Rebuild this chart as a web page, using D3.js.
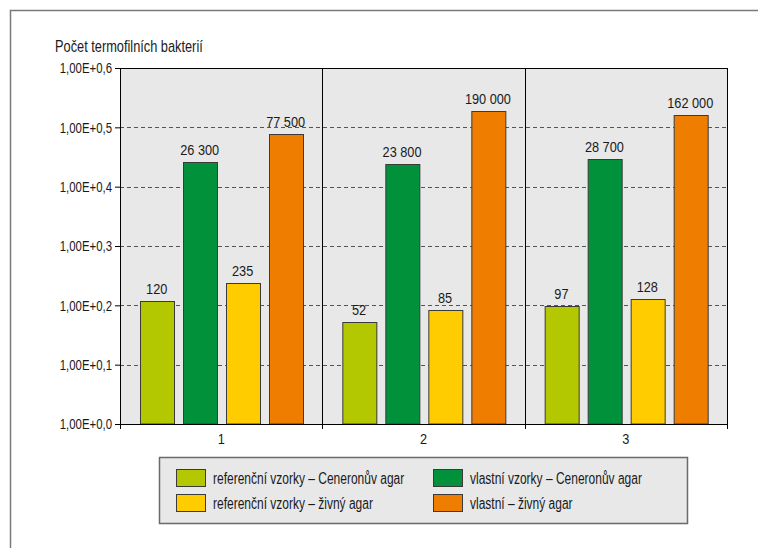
<!DOCTYPE html>
<html>
<head>
<meta charset="utf-8">
<script src="https://cdn.jsdelivr.net/npm/d3@7"></script>
<style>
  html, body { margin: 0; padding: 0; background: #fff; }
  svg text { font-family: "Liberation Sans", Arial, sans-serif; fill: #1a1a1a; }
</style>
</head>
<body>
<div id="chart"></div>
<script>
var CATEGORIES = ["1", "2", "3"];
var SERIES = [
    { key: "refCeneron", label: "referenční vzorky – Ceneronův agar", color: "#b3c800" },
    { key: "ownCeneron", label: "vlastní vzorky – Ceneronův agar",    color: "#00913a" },
    { key: "refZivny",   label: "referenční vzorky – živný agar",     color: "#ffcc00" },
    { key: "ownZivny",   label: "vlastní – živný agar",               color: "#ef7d00" }
];
var REF_CENERON = [120, 52, 97];
var OWN_CENERON = [26300, 23800, 28700];
var REF_ZIVNY   = [235, 85, 128];
var OWN_ZIVNY   = [77500, 190000, 162000];
var Y_TICKS     = [1, 10, 100, 1000, 10000, 100000, 1000000];
var Y_TICK_LABELS = ["1,00E+0,0", "1,00E+0,1", "1,00E+0,2", "1,00E+0,3", "1,00E+0,4", "1,00E+0,5", "1,00E+0,6"];
var Y_TITLE = "Počet termofilních bakterií";

var VALUES = {
    refCeneron: REF_CENERON,
    ownCeneron: OWN_CENERON,
    refZivny:   REF_ZIVNY,
    ownZivny:   OWN_ZIVNY
};

var W = 758, H = 548;
var margin = { left: 120, top: 68, right: 31, bottom: 124 };
var iW = W - margin.left - margin.right;
var iH = H - margin.top - margin.bottom;

// narrow text helper (the original uses a condensed face)
function addText(parent, x, y, str, anchor, size, sx) {
    return parent.append("text")
        .attr("transform", "translate(" + x + "," + y + ") scale(" + sx + ",1)")
        .attr("text-anchor", anchor || "start")
        .style("font-size", size + "px")
        .text(str);
}

var svg = d3.select("#chart").append("svg")
    .attr("width", W).attr("height", H);

// outer frame (only left + top are visible in the picture)
svg.append("path")
    .attr("d", "M10.5," + H + "V10.5H" + W)
    .attr("fill", "none").attr("stroke", "#7a7a7a").attr("stroke-width", 1.5);

var g = svg.append("g")
    .attr("transform", "translate(" + margin.left + "," + margin.top + ")");

var x0 = d3.scaleBand().domain(CATEGORIES).range([0, iW]).paddingInner(0).paddingOuter(0);
var x1 = d3.scaleBand().domain(SERIES.map(function (s) { return s.key; }))
    .range([0, x0.bandwidth()]).paddingInner(0.21).paddingOuter(0.46);
var y = d3.scaleLog().domain([1, 1000000]).range([iH, 0]);

// plot background
g.append("rect")
    .attr("width", iW).attr("height", iH)
    .attr("fill", "#e8e8e8");

// dashed grid
g.selectAll(".grid")
    .data(Y_TICKS.slice(1, -1))
    .enter().append("line")
    .attr("class", "grid")
    .attr("x1", 0).attr("x2", iW)
    .attr("y1", function (d) { return Math.round(y(d)) + 0.5; })
    .attr("y2", function (d) { return Math.round(y(d)) + 0.5; })
    .attr("stroke", "#555").attr("stroke-dasharray", "4 3");

// group separators
g.selectAll(".sep")
    .data(CATEGORIES.slice(1))
    .enter().append("line")
    .attr("class", "sep")
    .attr("x1", function (d) { return Math.round(x0(d)) + 0.5; })
    .attr("x2", function (d) { return Math.round(x0(d)) + 0.5; })
    .attr("y1", 0).attr("y2", iH)
    .attr("stroke", "#000");

// bars
var groups = g.selectAll(".grp")
    .data(CATEGORIES)
    .enter().append("g")
    .attr("class", "grp")
    .attr("transform", function (c) { return "translate(" + x0(c) + ",0)"; });

groups.each(function (c, ci) {
    var sel = d3.select(this);
    SERIES.forEach(function (s) {
        var v = VALUES[s.key][ci];
        var bx = Math.round(x1(s.key)) + 0.5;
        var by = Math.round(y(v)) + 0.5;
        sel.append("rect")
            .attr("x", bx).attr("y", by)
            .attr("width", Math.round(x1.bandwidth()))
            .attr("height", iH - by)
            .attr("fill", s.color)
            .attr("stroke", "#3a3a3a").attr("stroke-width", 1);
        addText(sel, x1(s.key) + x1.bandwidth() / 2, y(v) - 7,
            d3.format(",")(v).replace(/,/g, " "), "middle", 15, 0.85);
    });
});

// plot border
g.append("rect")
    .attr("x", 0.5).attr("y", 0.5)
    .attr("width", iW).attr("height", iH)
    .attr("fill", "none").attr("stroke", "#000");

// y axis
var AX_SX = 0.76;
var yAxis = g.append("g")
    .call(d3.axisLeft(y).tickValues(Y_TICKS).tickSize(5).tickSizeOuter(0)
        .tickFormat(function (d, i) { return Y_TICK_LABELS[i]; }));
yAxis.select(".domain").remove();
yAxis.selectAll("line").attr("stroke", "#000");
yAxis.selectAll("text")
    .attr("x", -8 / AX_SX)
    .attr("transform", "scale(" + AX_SX + ",1)")
    .style("font-size", "15px")
    .style("font-family", "'Liberation Sans', Arial, sans-serif")
    .attr("fill", "#1a1a1a");

// x axis: ticks at group boundaries, labels at centers
var bounds = CATEGORIES.map(function (c) { return x0(c); }).concat([iW]);
g.selectAll(".xtick")
    .data(bounds)
    .enter().append("line")
    .attr("class", "xtick")
    .attr("x1", function (d) { return Math.round(d) + 0.5; })
    .attr("x2", function (d) { return Math.round(d) + 0.5; })
    .attr("y1", iH).attr("y2", iH + 5)
    .attr("stroke", "#000");
CATEGORIES.forEach(function (c) {
    addText(g, x0(c) + x0.bandwidth() / 2, iH + 20, c, "middle", 15, 0.85);
});

// y title
addText(svg, 55, 52, Y_TITLE, "start", 16, 0.8);

// legend
var legend = svg.append("g").attr("transform", "translate(159,457)");
legend.append("rect")
    .attr("x", 0.5).attr("y", 0.5)
    .attr("width", 528).attr("height", 66)
    .attr("fill", "#e8e8e8")
    .attr("stroke", "#6a6a6a").attr("stroke-width", 1.5);

var legendPos = [[17, 12], [274, 12], [17, 37], [274, 37]];
SERIES.forEach(function (s, i) {
    var p = legendPos[i];
    var lg = legend.append("g").attr("transform", "translate(" + p[0] + "," + p[1] + ")");
    lg.append("rect")
        .attr("x", 0.5).attr("y", 0.5)
        .attr("width", 29).attr("height", 17)
        .attr("fill", s.color)
        .attr("stroke", "#3a3a3a");
    addText(lg, 37, 14.5, s.label, "start", 16, 0.75);
});
</script>
</body>
</html>
